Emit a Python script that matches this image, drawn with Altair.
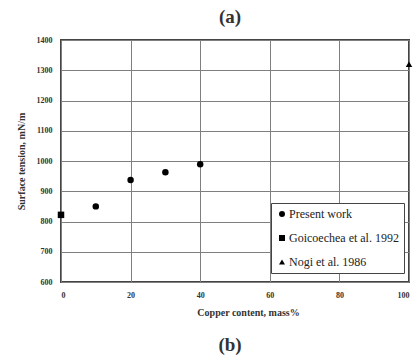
import altair as alt
import pandas as pd

# Measured surface tension of the alloys plus two literature values
present_cu = [10, 20, 30, 40]
present_st = [850, 937, 963, 989]
goico_cu = [0]
goico_st = [822]
nogi_cu = [100]
nogi_st = [1320]

series_names = ["Present work", "Goicoechea et al. 1992", "Nogi et al. 1986"]
shapes = ["circle", "square", "triangle-up"]

rows = []
for name, xs, ys in zip(series_names, [present_cu, goico_cu, nogi_cu], [present_st, goico_st, nogi_st]):
    for x, y in zip(xs, ys):
        rows.append({"cu": x, "st": y, "source": name})
df = pd.DataFrame(rows)

FONT = "Liberation Serif"
INK = "#333333"

points = alt.Chart(df).mark_point(filled=True, size=42, opacity=1, color="black").encode(
    x=alt.X("cu:Q", scale=alt.Scale(domain=[0, 100], nice=False),
            axis=alt.Axis(values=[0, 20, 40, 60, 80, 100], format="d",
                          title="Copper content, mass%", titleX=187, titlePadding=8)),
    y=alt.Y("st:Q", scale=alt.Scale(domain=[600, 1400], nice=False),
            axis=alt.Axis(values=list(range(600, 1401, 100)), format="d",
                          title="Surface tension, mN/m", titlePadding=10)),
    shape=alt.Shape("source:N", scale=alt.Scale(domain=series_names, range=shapes),
                    legend=alt.Legend(title=None, orient="none", legendX=210, legendY=163,
                                      padding=5, rowPadding=12, strokeColor="#444444",
                                      fillColor="white", symbolSize=36, symbolFillColor="black",
                                      symbolStrokeColor="black", labelFont=FONT,
                                      labelFontSize=12, labelFontWeight="normal",
                                      labelColor="#222222", labelLimit=200, symbolOffset=0,
                                      labelOffset=1)),
)

caption = alt.Chart(pd.DataFrame({"t": ["(b)"]})).mark_text(
    fontSize=19, fontWeight="bold", color=INK, align="center", baseline="middle"
).encode(x=alt.value(169), y=alt.value(305), text="t:N")

chart = alt.layer(points, caption).properties(
    width=348, height=242,
    autosize=alt.AutoSizeParams(type="none"),
    padding={"left": 61, "top": 40, "right": 10, "bottom": 76},
    title=alt.TitleParams("(a)", fontSize=19, fontWeight="bold", color=INK,
                          offset=9, dx=-5),
    background="white",
).configure(
    font=FONT
).configure_view(
    stroke="#444444", strokeWidth=2
).configure_axis(
    grid=True, gridColor="#7f7f7f", gridWidth=1, domain=False, ticks=False,
    labelFont=FONT, labelFontSize=8, labelFontWeight="bold", labelColor=INK, labelPadding=9,
    titleFont=FONT, titleFontSize=10, titleFontWeight="bold", titleColor=INK,
)

chart.save("out.html", embed_options={"renderer": "svg", "actions": False})
